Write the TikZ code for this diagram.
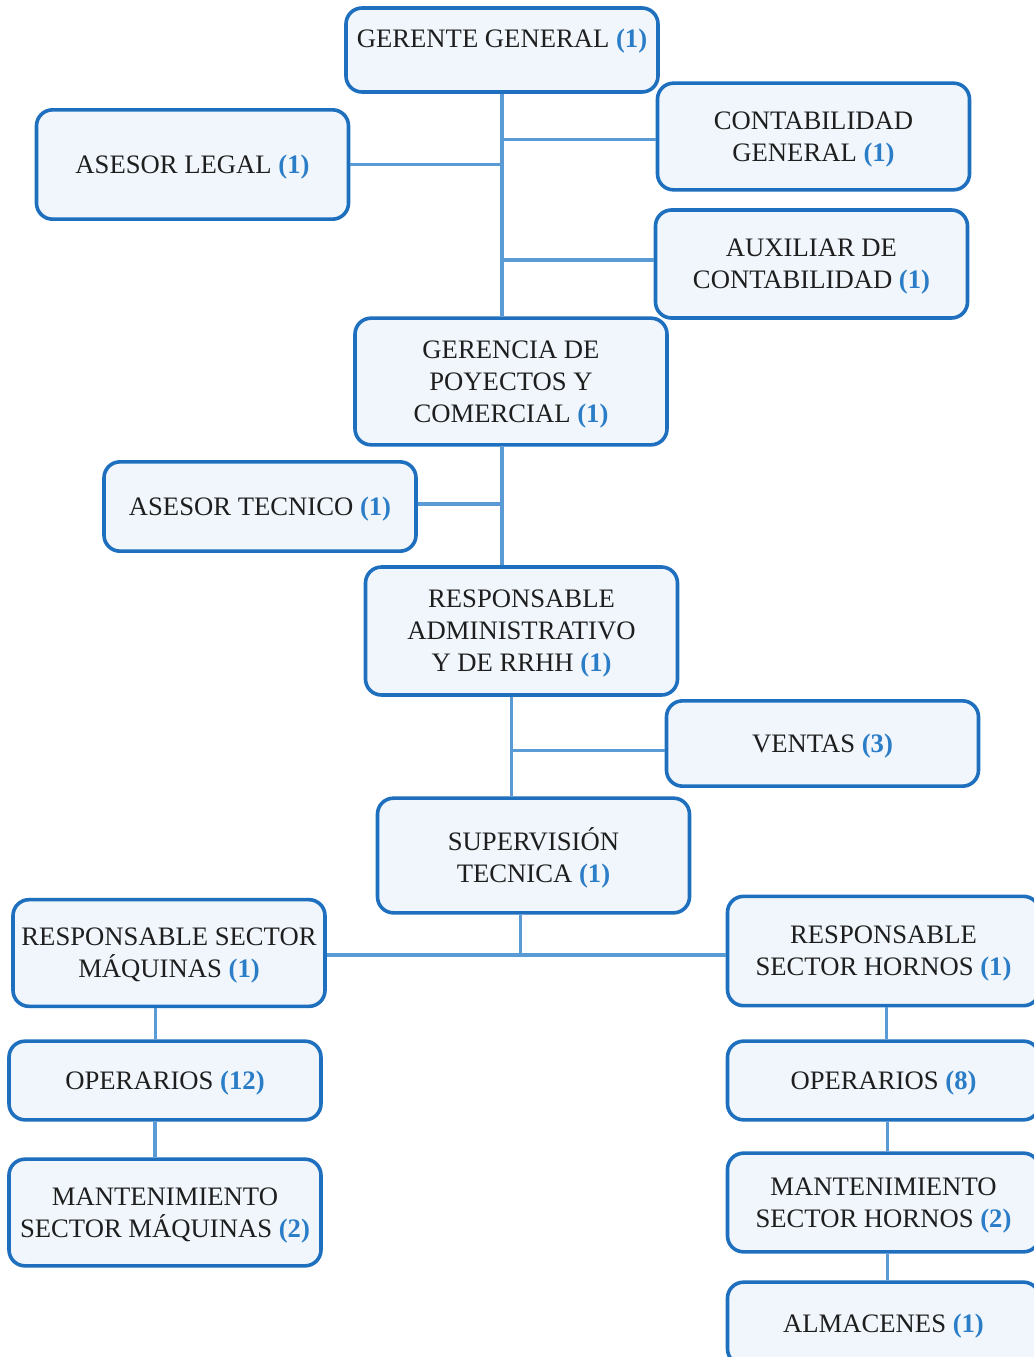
\documentclass[tikz,border=0pt]{standalone}
\usepackage{fontspec}
\setmainfont{Liberation Serif}
\definecolor{boxblue}{HTML}{1F6FBF}
\definecolor{boxfill}{HTML}{F0F6FC}
\definecolor{lineblue}{HTML}{5B9BD5}
\definecolor{nrblue}{HTML}{2A7DC6}
\definecolor{txtgray}{HTML}{1E1E1E}
\newcommand{\nrp}[1]{{\color{nrblue}\bfseries(#1)}}
\begin{document}
\begin{tikzpicture}[
    x=0.75pt, y=-0.75pt,
    unit/.style={rectangle, draw=boxblue, fill=boxfill, line width=2.7pt, rounded corners=12pt,
        minimum width=234pt, align=center, inner sep=0pt, text=txtgray, text depth=0pt,
        font=\fontsize{20}{24}\selectfont},
    link/.style={draw=lineblue, line width=2.5pt}
]
\useasboundingbox[fill=white] (0,0) rectangle (1034,1357);

% Direccion
\node[unit, minimum height=63pt] (gg) at (502,50) {GERENTE GENERAL \nrp{1}\\[-7pt]\strut};
\node[unit, minimum height=82pt] (al) at (192.5,164.5) {ASESOR LEGAL \nrp{1}};
\node[unit, minimum height=80pt] (cg) at (813.5,136.5) {CONTABILIDAD\\GENERAL \nrp{1}};
\node[unit, minimum height=81pt] (ac) at (811.5,264) {AUXILIAR DE\\CONTABILIDAD \nrp{1}};

% Gerencias
\node[unit, minimum height=95pt] (gp) at (511,381.5) {GERENCIA DE\\POYECTOS Y\\COMERCIAL \nrp{1}};
\node[unit, minimum height=67pt] (at) at (260,506.5) {ASESOR TECNICO \nrp{1}};
\node[unit, minimum height=96pt] (ra) at (521.5,631) {RESPONSABLE\\ADMINISTRATIVO\\Y DE RRHH \nrp{1}};
\node[unit, minimum height=64pt] (ve) at (822.5,743.5) {VENTAS \nrp{3}};
\node[unit, minimum height=86pt] (st) at (533.5,855.5) {SUPERVISIÓN\\TECNICA \nrp{1}};

% Sector maquinas
\node[unit, minimum height=80pt] (rm) at (169,953) {RESPONSABLE SECTOR\\MÁQUINAS \nrp{1}};
\node[unit, minimum height=59pt] (om) at (165,1080.5) {OPERARIOS \nrp{12}};
\node[unit, minimum height=80pt] (mm) at (165,1212.5) {MANTENIMIENTO\\SECTOR MÁQUINAS \nrp{2}};

% Sector hornos
\node[unit, minimum height=82pt] (rh) at (883.5,951) {RESPONSABLE\\SECTOR HORNOS \nrp{1}};
\node[unit, minimum height=59pt] (oh) at (883.5,1080.5) {OPERARIOS \nrp{8}};
\node[unit, minimum height=74pt] (mh) at (883.5,1202.5) {MANTENIMIENTO\\SECTOR HORNOS \nrp{2}};
\node[unit, minimum height=62pt] (am) at (883.5,1323.5) {ALMACENES \nrp{1}};

% Conexiones
\draw[link] (gg.south) -- (gg.south |- gp.north);
\draw[link] (al.east) -- (al.east -| gg.south);
\draw[link] ([yshift=-2pt]cg.west) -- ([yshift=-2pt]cg.west -| gg.south);
\draw[link] ([yshift=3pt]ac.west) -- ([yshift=3pt]ac.west -| gg.south);
\draw[link] (gp.south -| gg.south) -- (ra.north -| gg.south);
\draw[link] ([yshift=2pt]at.east) -- ([yshift=2pt]at.east -| gg.south);
\draw[link] ([xshift=-7.5pt]ra.south) -- ([xshift=-7.5pt]ra.south |- st.north);
\draw[link] ([yshift=-5pt]ve.west) -- ([yshift=-5pt]ve.west -| ra.south) -- +(-7.5pt,0);
\draw[link] ([xshift=-10pt]st.south) -- ([xshift=-10pt]st.south |- rm.east);
\draw[link] ([yshift=-1.5pt]rm.east) -- ([yshift=-1.5pt]rm.east -| rh.west);
\draw[link] ([xshift=-10pt]rm.south) -- ([xshift=-10pt]rm.south |- om.north);
\draw[link] ([xshift=-7.5pt]om.south) -- ([xshift=-7.5pt]om.south |- mm.north);
\draw[link] ([xshift=2pt]rh.south) -- ([xshift=2pt]rh.south |- oh.north);
\draw[link] ([xshift=3pt]oh.south) -- ([xshift=3pt]oh.south |- mh.north);
\draw[link] ([xshift=3pt]mh.south) -- ([xshift=3pt]mh.south |- am.north);

\end{tikzpicture}
\end{document}
